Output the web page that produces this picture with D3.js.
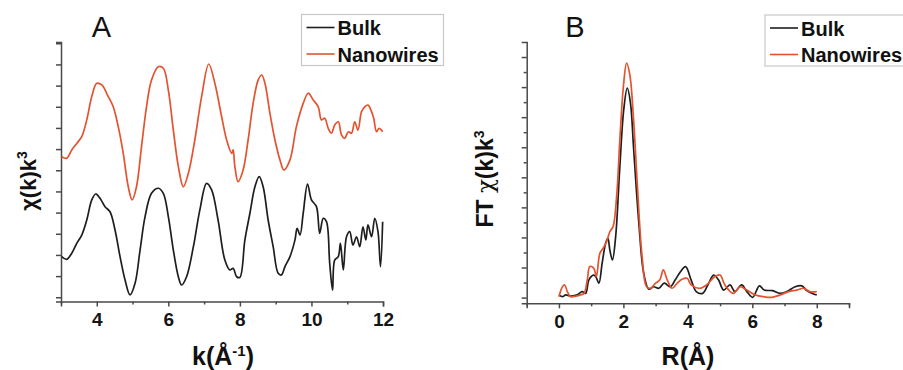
<!DOCTYPE html>
<html>
<head>
<meta charset="utf-8">
<script src="https://cdn.jsdelivr.net/npm/d3@7"></script>
<style>
  body { margin: 0; background: #fff; }
  svg { display: block; font-family: "Liberation Sans", Arial, sans-serif; }
  .axis path, .axis line { stroke: #4a4a4a; stroke-width: 1.5; }
  .axis text { font-weight: bold; font-size: 19px; fill: #151515; }
  .series { fill: none; stroke-width: 1.7; stroke-linejoin: round; }
</style>
</head>
<body>
<svg id="chart" width="903" height="370"></svg>
<script>
// series names + colours shared by both panels
var seriesNames = ["Bulk", "Nanowires"];
var seriesColors = ["#1e1e1e", "#e4532f"];

// panel A: chi(k)k^3 vs k, [k, value] (arbitrary offset units)
var chiBulk = [
  [3.02,1.92],[3.16,1.79],[3.30,2.08],[3.44,2.55],[3.58,2.94],[3.72,3.65],[3.86,4.60],[3.97,4.88],
  [4.09,4.68],[4.23,4.28],[4.37,4.04],[4.51,3.18],[4.65,1.92],[4.79,0.82],[4.93,0.11],[5.07,0.66],
  [5.21,2.23],[5.35,3.81],[5.53,4.91],[5.72,5.15],[5.86,4.91],[6.00,3.81],[6.14,2.23],[6.28,0.97],
  [6.37,0.58],[6.51,0.97],[6.70,2.39],[6.88,4.12],[7.07,5.38],[7.21,5.07],[7.39,3.65],[7.58,1.76],
  [7.72,1.29],[7.81,1.37],[7.91,0.97],[8.00,0.94],[8.14,2.71],[8.28,3.97],[8.42,5.22],[8.54,5.70],
  [8.65,5.22],[8.79,3.65],[8.93,2.39],[9.07,1.13],[9.16,1.05],[9.26,1.45],[9.40,1.92],[9.54,2.71],
  [9.60,3.26],[9.68,2.94],[9.77,3.97],[9.89,5.35],[10.00,4.60],[10.14,4.28],[10.23,3.02],[10.33,3.73],
  [10.42,3.57],[10.51,1.61],[10.59,0.34],[10.65,1.76],[10.75,1.92],[10.81,2.55],[10.89,1.29],[10.98,2.86],
  [11.07,3.10],[11.16,2.47],[11.26,2.86],[11.35,2.39],[11.44,3.33],[11.52,2.71],[11.58,3.42],[11.68,2.86],
  [11.77,3.73],[11.86,3.10],[11.93,1.45],[11.99,3.57]
];
var chiNano = [
  [3.02,6.64],[3.16,6.57],[3.30,6.96],[3.44,7.27],[3.58,7.59],[3.72,8.38],[3.86,9.48],[4.00,10.11],
  [4.14,10.03],[4.32,9.48],[4.46,9.00],[4.60,8.06],[4.74,6.80],[4.88,5.22],[4.99,4.60],[5.11,5.22],
  [5.25,7.11],[5.39,9.00],[5.53,10.26],[5.72,10.89],[5.86,10.82],[6.00,9.79],[6.14,7.90],[6.28,6.17],
  [6.42,5.22],[6.56,5.86],[6.74,7.43],[6.93,9.48],[7.13,11.02],[7.30,10.11],[7.49,8.53],[7.63,7.43],
  [7.77,6.80],[7.81,6.96],[7.86,6.17],[7.95,5.46],[8.09,6.01],[8.23,7.43],[8.37,9.16],[8.51,10.26],
  [8.61,10.50],[8.70,10.11],[8.84,8.69],[8.98,7.43],[9.12,6.49],[9.23,6.01],[9.40,6.49],[9.58,8.06],
  [9.77,9.16],[9.91,9.64],[10.05,9.32],[10.19,9.00],[10.28,8.38],[10.37,8.46],[10.47,7.98],[10.56,7.75],
  [10.65,8.14],[10.75,8.29],[10.84,7.67],[10.93,7.51],[11.03,7.82],[11.12,7.75],[11.21,8.29],[11.30,7.90],
  [11.40,8.77],[11.49,9.00],[11.58,9.08],[11.68,8.77],[11.74,8.46],[11.82,7.82],[11.89,7.98],[11.99,7.82]
];

// panel B: FT magnitude vs R, [R, value]
var ftBulk = [
  [0.00,0.09],[0.11,0.03],[0.21,0.09],[0.36,0.05],[0.57,0.09],[0.72,0.20],[0.83,0.14],[0.93,0.59],
  [1.07,0.75],[1.14,0.70],[1.24,0.48],[1.34,1.14],[1.45,1.81],[1.52,1.97],[1.58,1.58],[1.66,1.25],
  [1.76,2.03],[1.89,4.36],[2.01,6.24],[2.12,6.97],[2.22,6.47],[2.32,4.91],[2.48,2.47],[2.63,0.81],
  [2.79,0.28],[2.94,0.36],[3.10,0.31],[3.27,0.48],[3.46,0.36],[3.61,0.59],[3.77,0.86],[3.93,1.03],
  [4.10,0.59],[4.26,0.20],[4.46,0.14],[4.62,0.42],[4.80,0.75],[4.95,0.59],[5.11,0.25],[5.31,0.42],
  [5.46,0.20],[5.67,0.42],[5.83,0.20],[6.01,0.01],[6.22,0.39],[6.37,0.25],[6.63,0.23],[6.86,0.14],
  [7.07,0.20],[7.33,0.36],[7.54,0.39],[7.69,0.23],[7.90,0.12],[8.00,0.09]
];
var ftNano = [
  [0.00,0.03],[0.11,0.36],[0.18,0.42],[0.26,0.20],[0.36,0.03],[0.52,0.05],[0.67,0.09],[0.78,0.14],
  [0.88,0.59],[0.96,1.03],[1.08,0.98],[1.16,0.70],[1.27,1.47],[1.37,1.64],[1.48,1.86],[1.58,2.19],
  [1.68,2.36],[1.79,3.36],[1.89,5.24],[2.00,7.02],[2.10,7.80],[2.20,7.41],[2.31,6.02],[2.43,3.80],
  [2.58,1.36],[2.72,0.36],[2.84,0.31],[3.00,0.48],[3.13,0.59],[3.24,0.92],[3.36,0.59],[3.51,0.31],
  [3.67,0.48],[3.82,0.61],[3.98,0.64],[4.10,0.42],[4.37,0.31],[4.58,0.42],[4.84,0.70],[5.00,0.75],
  [5.15,0.42],[5.41,0.14],[5.62,0.36],[5.83,0.25],[6.09,0.09],[6.35,0.03],[6.61,0.01],[6.87,0.09],
  [7.12,0.20],[7.38,0.25],[7.59,0.31],[7.79,0.20],[8.00,0.20]
];

// tick values
var chiXTicks = [3,4,5,6,7,8,9,10,11,12];
var chiXLabels = [4,6,8,10,12];
var chiYTicks = [0,1,2,3,4,5,6,7,8,9,10,11,12];
var ftXTicks = [-1,0,1,2,3,4,5,6,7,8,9];
var ftXLabels = [0,2,4,6,8];
var ftYTicks = [0,0.5,1,1.5,2,2.5,3,3.5,4,4.5,5,5.5,6,6.5,7,7.5,8];

var svg = d3.select("#chart");

function panel(opts) {
  var g = svg.append("g");
  var x = d3.scaleLinear().domain(opts.xDomain).range(opts.xRange);
  var y = d3.scaleLinear().domain(opts.yDomain).range(opts.yRange);

  var xAxis = g.append("g")
    .attr("class", "axis")
    .attr("transform", "translate(0," + opts.yRange[0] + ")")
    .call(d3.axisBottom(x)
      .tickValues(opts.xTicks)
      .tickSizeOuter(0)
      .tickSize(5)
      .tickPadding(6)
      .tickFormat(function(d) { return opts.xLabels.indexOf(d) >= 0 ? d : ""; }));
  xAxis.selectAll(".tick line")
    .attr("y2", function(d) { return opts.xLabels.indexOf(d) >= 0 ? 5 : 3; });

  var yAxis = g.append("g")
    .attr("class", "axis")
    .attr("transform", "translate(" + opts.xRange[0] + ",0)")
    .call(d3.axisLeft(y)
      .tickValues(opts.yTicks)
      .tickSizeOuter(0)
      .tickSize(5)
      .tickFormat(""));
  yAxis.selectAll(".tick line")
    .attr("x2", function(d) { return d % 1 === 0 ? -5 : -3; });

  var line = d3.line()
    .curve(d3.curveCatmullRom.alpha(0.5))
    .x(function(d) { return x(d[0]); })
    .y(function(d) { return y(d[1]); });

  g.selectAll("path.series")
    .data(opts.series)
    .enter().append("path")
      .attr("class", "series")
      .attr("stroke", function(d, i) { return seriesColors[i]; })
      .attr("d", line);

  // panel letter
  g.append("text")
    .attr("x", opts.letterPos[0]).attr("y", opts.letterPos[1])
    .attr("text-anchor", "middle")
    .style("font-size", "29px")
    .style("fill", "#111")
    .text(opts.letter);

  // legend
  var lg = g.append("g").attr("transform", "translate(" + opts.legendPos[0] + "," + opts.legendPos[1] + ")");
  lg.append("rect")
    .attr("width", opts.legendW).attr("height", 51)
    .attr("fill", "#fff").attr("stroke", "#c8c8c8").attr("stroke-width", 1.2);
  var item = lg.selectAll("g.item")
    .data(seriesNames)
    .enter().append("g")
      .attr("class", "item")
      .attr("transform", function(d, i) { return "translate(0," + (13 + i * 26.5) + ")"; });
  item.append("line")
    .attr("x1", 5).attr("x2", 33)
    .attr("stroke", function(d, i) { return seriesColors[i]; })
    .attr("stroke-width", 1.6);
  item.append("text")
    .attr("x", 36).attr("y", 7.5)
    .style("font-size", "20px").style("font-weight", "bold").style("fill", "#111")
    .text(function(d) { return d; });

  return g;
}

var gA = panel({
  xDomain: [3, 12], xRange: [61, 383],
  yDomain: [-0.2, 12.06], yRange: [301.5, 42],
  xTicks: chiXTicks, xLabels: chiXLabels, yTicks: chiYTicks,
  series: [chiBulk, chiNano],
  letter: "A", letterPos: [101.5, 37],
  legendPos: [301.5, 14.5], legendW: 142
});

var gB = panel({
  xDomain: [-1, 9], xRange: [526.7, 849],
  yDomain: [-0.19, 8.5], yRange: [303.3, 42],
  xTicks: ftXTicks, xLabels: ftXLabels, yTicks: ftYTicks,
  series: [ftBulk, ftNano],
  letter: "B", letterPos: [575, 37],
  legendPos: [765, 15], legendW: 160
});

// axis titles
var titleStyle = function(sel, size) {
  sel.style("font-size", size + "px").style("font-weight", "bold").style("fill", "#111")
     .attr("text-anchor", "middle");
};

var tA = svg.append("text").attr("x", 223).attr("y", 365).call(titleStyle, 25);
tA.append("tspan").text("k(Å");
tA.append("tspan").attr("dy", -9).style("font-size", "15px").text("-1");
tA.append("tspan").attr("dy", 9).text(")");

svg.append("text").attr("x", 688).attr("y", 365).call(titleStyle, 25).text("R(Å)");

var yA = svg.append("text")
  .attr("transform", "translate(36,181) rotate(-90)")
  .call(titleStyle, 22);
yA.append("tspan").text("χ(k)k");
yA.append("tspan").attr("dy", -9).style("font-size", "14px").text("3");

var yB = svg.append("text")
  .attr("transform", "translate(493,179) rotate(-90)")
  .call(titleStyle, 23);
yB.append("tspan").text("FT ");
yB.append("tspan").style("font-weight", "normal").style("font-family", "'DejaVu Serif', serif").text("χ");
yB.append("tspan").text("(k)k");
yB.append("tspan").attr("dy", -9).style("font-size", "14px").text("3");
</script>
</body>
</html>
